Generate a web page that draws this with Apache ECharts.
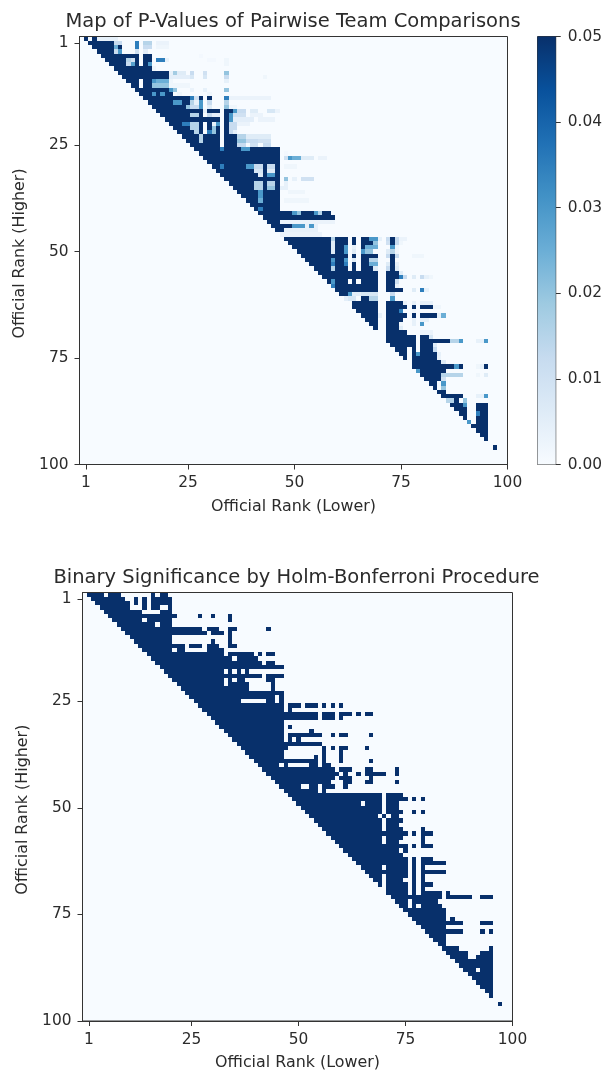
<!DOCTYPE html>
<html><head><meta charset="utf-8">
<style>html,body{margin:0;padding:0;background:#fff}#c{width:605px;height:1076px}</style>
<script src="https://cdn.jsdelivr.net/npm/echarts@6/dist/echarts.min.js"></script>
</head><body><div id="c"></div>
<script>
const titleTop = 'Map of P-Values of Pairwise Team Comparisons';
const titleBottom = 'Binary Significance by Holm-Bonferroni Procedure';
const xName = 'Official Rank (Lower)';
const yName = 'Official Rank (Higher)';
const rankTicks = [1, 25, 50, 75, 100];
const blues = ['#f7fbff','#deebf7','#c6dbef','#9ecae1','#6baed6','#4292c6','#2171b5','#08519c','#08306b'];
// rows of the p-value map: "from-to:value", value defaults to 0.05
const pRows = [
"1 3 4-8:.004",
"2-7 8-9:.012 13:.035 15-16:.015 18-20:.003",
"3-7 8:.025 9 13:.035 15-16:.012 18-20:.002",
"4-7 8:.012 9:.03 13:.01 15:.005",
"5-13 15-16 28:.001",
"6-10 11:.015 12:.01 13 15-16 18:.035 19:.035 20:.004 30-31:.001 34:.002",
"7-10 11:.012 12:.028 13 15 16:.03 34:.002",
"8-16 17:.002",
"9-20 21:.004 22:.018 23-24:.006 26:.012 29:.01 34:.02",
"10-20 21-25:.005 26:.008 29:.008 34:.012 43:.002",
"11-13 15-16 17:.03 18-20:.025 21:.002 34:.004",
"12-13 15-16 17-20:.02 21-25:.002",
"13-20 21:.03 22:.02 26:.003 29:.004 34:.02",
"14-16 17:.03 18 19:.03 20-21 23:.002 30:.002",
"15-25 26:.035 27:.01 28 30 34:.035 35-44:.003",
"16-21 22-23:.03 24-25 26:.015 27:.004 28:.03 30:.012 34:.015",
"17-24 25:.02 26-27:.012 28:.03 30:.006 34:.02 35-36:.002",
"18-28 29:.004 30-32 34-35 36:.03 37-38:.012 40-41:.006 44-45:.008 46:.003",
"19-25 26-27:.015 28 30:.012 31-32:.005 34 35:.03 36-38:.01 40-42:.003",
"20-32 34 35:.03 36-40:.005 42-45:.003",
"21-23 24-25:.035 26-27:.015 28 30 31:.004 32:.03 34 35-36:.012 37-39:.003",
"22-25 26-27:.015 28 30 31:.02 32 34 35-36:.012",
"23-26 27:.015 28 30:.035 31:.02 32 34 35:.012 36:.004",
"24-27 28:.015 29-32 34-36 37-38:.015 39-41:.006 42-44:.006",
"25-27 28:.015 29-32 34-36 37-38:.02 39-41:.012 42-44:.01",
"26-32 34-36 37-38:.012 40-41:.01 43-44:.012",
"27-32 33:.035 34-37 38-39:.03 40-46",
"28-46 48:.001",
"29-46 48:.01 49:.03 50-51:.025 52-54:.006 56-57:.003",
"30-46",
"31-32 33:.035 34-38 39-40:.03 41-42:.012 43 44-45:.012 46 48-50:.002",
"32-40 41-42:.008 43 44-45:.006 46",
"33-41 42:.006 43 44-45:.03 46",
"34-46 48:.02 50:.004 52-54:.01",
"35-40 41-42:.015 43 44-45:.015 46 48:.004",
"36-40 41-42:.015 43 44-45:.02 46 47:.004 48:.004",
"37-41 42:.03 43-46 49-52:.002",
"38-41 42:.03 43-46",
"39-41 42:.025 43-46 48-53:.002",
"40-46",
"41 42:.035 43-46",
"42-46 47-49 50:.03 51:.02 52-54 55:.03 56:.015 57-58",
"43-59",
"44-46 47-59:.003",
"45-49 50-51:.03 52:.03 53:.004 54:.03 55:.004",
"46-47 48-55:.004",
"47-56:.003",
"48-58 59:.015 60-62 64 66-67 68-69:.03 70:.004 72:.012 73 74:.012 75-76:.003",
"49-58 59:.006 60-62 64 66-68 69:.02 72:.01 73 74:.012 75:.002",
"50-58 59:.006 60-61 62:.03 64:.004 66 67-69:.025 73:.03 74:.002",
"51-58 59:.006 60-61 62:.03 64:.006 66:.03 67-68:.02 72:.006 73:.015 74:.002",
"52-59 60-62 64 66-69 72:.012 73 74:.012 78-80:.002",
"53-58 59:.03 60-61 62:.03 64:.006 66-67 68-69:.015 73",
"54-58 59:.035 60-61 62:.035 64 66-67 68-69:.025 72:.006 73 74:.004",
"55-58 59:.015 60-62 64 66-68 69:.006 72:.012 73 74:.006",
"56-62 63-65 66-69 72-74 75:.006",
"57-69 72-74 75:.035 76:.012 78:.006 80:.012 81:.004 82:.002",
"58 59:.03 60-62 64 66-69 72-73 74:.01",
"59:.035 60-69 72-73 74:.003",
"60-69 72-75 78:.006 80:.035 81:.004",
"61-62 63:.03 64-65:.005 66-69:.008 73:.012",
"62:.005 63-64:.008 66-67 68-69:.015 73:.03",
"64-69 72-75 76:.003 78:.004 80-82:.004",
"64-69 72-76 78 80-82 83-84:.002",
"65-69 72-74 75:.035 78:.002",
"66-69 70:.004 72-76 78 80-83 84:.004 85:.025",
"67-69 72-75 78:.004 80-81:.004",
"68-69 72-74 75:.002 78:.004 80:.03",
"69 72-74 75:.006",
"72-76 80-82:.003",
"72-77 78 80-81 82:.008",
"72-77 78 80-86 87-88:.015 89:.03 93-94:.004 95:.03",
"73-77 78 80-82 83:.006",
"74-76 78 80-82 83:.012",
"75-76 78 79:.03 80-83 84:.004",
"76 78 79-83 84:.003",
"78 79-84 85:.006",
"78-84 85-87 88:.03 89 93:.002 94:.004 95",
"79:.03 80-85",
"80-84 85-88:.015 89:.015 93:.002 95:.006",
"81-84 85:.01",
"82-83 85:.03",
"83 85:.02",
"84-85",
"85-89 93-94:.004 95:.03",
"86-87:.015 88 90:.02",
"87-89 90:.03 93-95",
"88-90 93-95",
"89-90 93:.035 94-95",
"90 93-95",
"91:.03 93-95",
"92-95",
"93-95",
"94-95",
"95",
"",
"97",
];
// rows of the binary significance map: dark runs
const holmRows = [
"1-4 6-8 16 18-19",
"2-9 12 14 16-20",
"3-10 12 14 16-20",
"4-10 14 16-17 20",
"5-13 18-20",
"6-21 27 30 34",
"7-13 15-20 34",
"8-16 18-20",
"9-27 29-31 34-35 43",
"10-28 30-32 34",
"11-20 34",
"12-20 30 34",
"13-23 25-27 29-31 34-35",
"14-20 22-23 29-32",
"15-32 34-39 41 43-44",
"16-34 36-40",
"17-41 43-44",
"18-46",
"19-32 34 36 38",
"20-41 43-46",
"21-32 34 36-37 43-44",
"22-32 34-38 44",
"23-38 44",
"24-46",
"25-44 46",
"26-36 43-44 46",
"27-46 48-50 52-54 56 58 60",
"28-46 48",
"29-54 56-58 60-62 64 66-67",
"30-54 56-58 60",
"31-46",
"32-46 48",
"33-46 53",
"34-46 48-55 58 60-61 67",
"35-46 48 50",
"36-55",
"37-47 56 58 60-61 66",
"38-46 56 60",
"39-46 54 56 60",
"40-54 56 60 67",
"41-45 47 53-54 56-57",
"42-58 60-62 66-67 73",
"43-59 61 64 66-70 73",
"44-58 60-62 67",
"45-57 61-62 66-67 73",
"46-50 53-54 56-58 61",
"47-54 56",
"48-69 71-74",
"49-69 71-75 77 79",
"50-64 66-69 71-73",
"51-69 71-73",
"52-69 71-74 77 79",
"53-68 70 72-73",
"54-69 71-74",
"55-69 71-73",
"56-69 71-74 79",
"57-75 77 79-81",
"58-69 71-74 79",
"59-69 71-73 79",
"60-75 77 79-81",
"61-73 75",
"62-74",
"63-75 77 79-81",
"64-75 77 79-84",
"65-69 71-75 77 79",
"66-75 77 79-84",
"67-69 71-75 77 79",
"68-69 71-74 77 79",
"69 71-75 77 79-81",
"71-75 77 79",
"71-75 77 79-83 85",
"72-83 85-90 93-95",
"73-75 77-82",
"74-75 77 79-83",
"75-84",
"76-84",
"77-84 86",
"78-88 93-95",
"79-84",
"80-88 93 95",
"81-84",
"82-84",
"83-84",
"84-87 95",
"85-89 93-95",
"86-89 92-95",
"87-95",
"88-95",
"89-91 93-95",
"90-95",
"91-95",
"92-95",
"93-95",
"94-95",
"95",
"",
"97",
];

function expand(rows) {
  const out = [];
  rows.forEach((row, r) => {
    row.split(' ').filter(Boolean).forEach(tok => {
      const [span, val] = tok.split(':');
      const [a, b] = span.split('-').map(Number);
      const v = val ? parseFloat(val) : 0.05;
      for (let c = a; c <= (b === undefined ? a : b); c++) out.push([c, r, v]);
    });
  });
  return out;
}
function cell(params, api) {
  const c = api.value(0), r = api.value(1);
  const p0 = api.coord([c - 0.5, r - 0.5]), p1 = api.coord([c + 0.5, r + 0.5]);
  const x = Math.round(p0[0]), y = Math.round(p0[1]);
  return {type:'rect', shape:{x, y, width:Math.round(p1[0]) - x, height:Math.round(p1[1]) - y},
    style:{fill:api.visual('color')}};
}
const textColor = '#2b2b2b';
const lineColor = '#333';
const tickFont = 15.4, nameFont = 15.9, titleFont = 19.5;
function rankAxis(idx, name, isY) {
  return {type:'value', gridIndex:idx, min:-0.5, max:100, inverse:isY, name, nameLocation:'middle',
    nameGap:isY ? 46 : 34,
    nameTextStyle:{fontFamily:'DejaVu Sans', fontSize:nameFont, color:textColor, padding:isY ? [0,6,0,0] : 0},
    splitLine:{show:false},
    axisLine:{show:true, onZero:false, lineStyle:{color:lineColor, width:1}},
    axisTick:{show:true, length:5, customValues:rankTicks, lineStyle:{color:lineColor, width:1}},
    axisLabel:{customValues:rankTicks, margin:isY ? 11 : 11, fontFamily:'DejaVu Sans', fontSize:tickFont, color:textColor,
      showMinLabel:true, showMaxLabel:true, hideOverlap:false, formatter:v => String(v)}};
}
const gridBase = {show:true, backgroundColor:'#f7fbff', borderColor:lineColor, borderWidth:1};
const stops = blues.map((color, i) => ({offset:i / (blues.length - 1), color}));
const chart = echarts.init(document.getElementById('c'), null, {renderer:'canvas'});
chart.setOption({
  animation:false,
  backgroundColor:'#fff',
  title:[
    {text:titleTop, left:288, top:7, textAlign:'center', textStyle:{fontFamily:'DejaVu Sans', fontSize:titleFont, fontWeight:'normal', color:textColor}},
    {text:titleBottom, left:291.5, top:563, textAlign:'center', textStyle:{fontFamily:'DejaVu Sans', fontSize:titleFont, fontWeight:'normal', color:textColor}},
  ],
  grid:[
    {...gridBase, left:79.5, top:36.5, width:428, height:428},
    {...gridBase, left:82.5, top:592.5, width:430, height:428.5},
    {...gridBase, left:537.5, top:36.5, width:21, height:428},
  ],
  xAxis:[
    rankAxis(0, xName, false),
    rankAxis(1, xName, false),
    {type:'category', gridIndex:2, data:['p'], show:false},
  ],
  yAxis:[
    rankAxis(0, yName, true),
    rankAxis(1, yName, true),
    {type:'value', gridIndex:2, position:'right', min:0, max:0.05, interval:0.01,
      splitLine:{show:false},
      axisLine:{show:true, lineStyle:{color:lineColor, width:1}},
      axisTick:{show:true, length:5, lineStyle:{color:lineColor, width:1}},
      axisLabel:{margin:12, fontFamily:'DejaVu Sans', fontSize:tickFont, color:textColor, formatter:v => v.toFixed(2)}},
  ],
  visualMap:[{type:'continuous', show:false, seriesIndex:0, dimension:2, min:0, max:0.05, inRange:{color:blues}}],
  series:[
    {type:'custom', xAxisIndex:0, yAxisIndex:0, data:expand(pRows), renderItem:cell, clip:true, progressive:0,
      encode:{x:0, y:1}},
    {type:'custom', xAxisIndex:1, yAxisIndex:1, data:expand(holmRows), renderItem:cell, clip:true, progressive:0,
      encode:{x:0, y:1}, itemStyle:{color:'#08306b'}},
    {type:'bar', xAxisIndex:2, yAxisIndex:2, data:[0.05], barWidth:'100%', silent:true,
      itemStyle:{color:{type:'linear', x:0, y:1, x2:0, y2:0, colorStops:stops}}},
  ],
});
</script></body></html>
